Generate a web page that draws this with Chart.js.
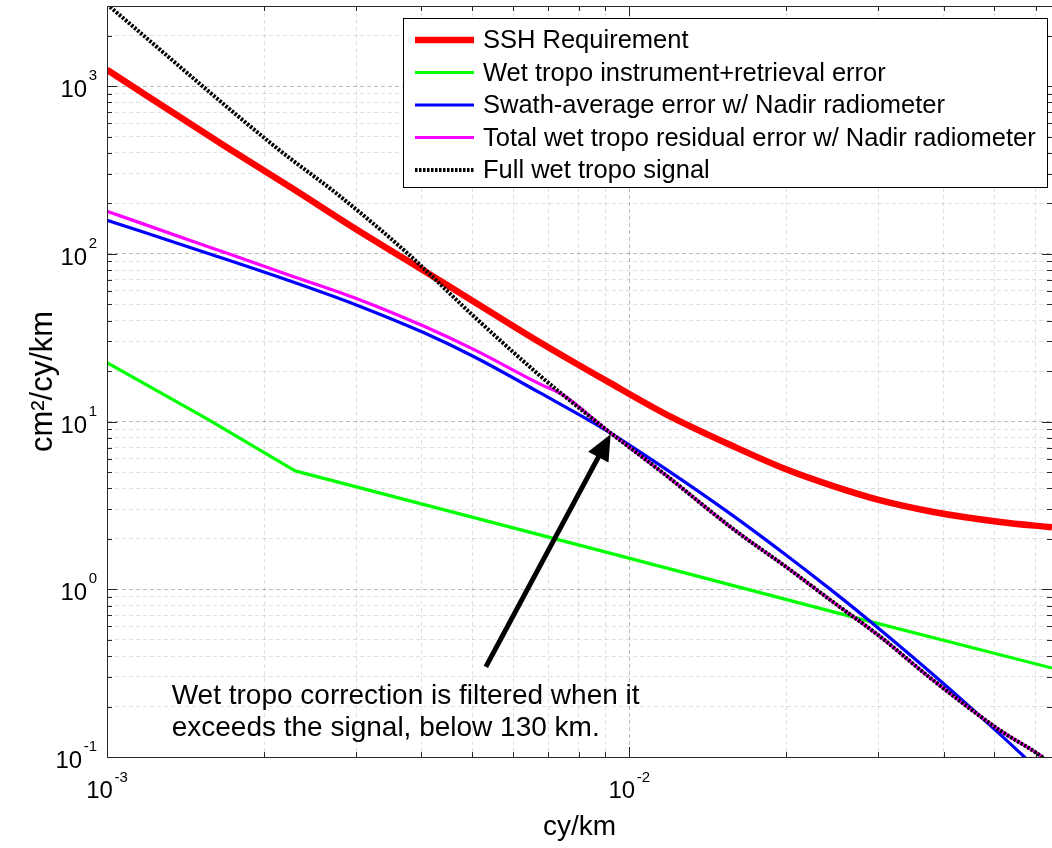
<!DOCTYPE html>
<html>
<head>
<meta charset="utf-8">
<script src="https://cdn.jsdelivr.net/npm/chart.js@4.4.1/dist/chart.umd.min.js"></script>
<style>
  html, body { margin: 0; padding: 0; background: #ffffff; }
  #wrap { width: 1052px; height: 848px; position: relative; }
</style>
</head>
<body>
<div id="wrap"><canvas id="spectra"></canvas></div>
<script>
// Wavenumber (cy/km) and power spectral density (cm^2/cy/km) for each curve
const sshFreq = [0.001, 0.001695, 0.002243, 0.00301, 0.003751, 0.005035, 0.006753, 0.009065,
                 0.01179, 0.01582, 0.02002, 0.02459, 0.03004, 0.03824, 0.0513, 0.0645];
const sshPsd  = [1250, 432, 250, 139, 91.5, 52, 29.6, 17.4,
                 11.0, 7.12, 5.17, 4.12, 3.41, 2.89, 2.52, 2.34];

const instrFreq = [0.001, 0.001552, 0.002292, 0.009065, 0.02849, 0.0645];
const instrPsd  = [22.45, 10.4, 5.08, 1.66, 0.65, 0.339];

const swathFreq = [0.001, 0.001552, 0.002243, 0.00301, 0.004038, 0.005035, 0.006753, 0.009065,
                   0.01179, 0.01582, 0.02002, 0.02459, 0.02849, 0.0399, 0.0513, 0.05686, 0.0575];
const swathPsd  = [158.5, 101.2, 68.8, 49.4, 33.9, 24.4, 14.8, 8.8,
                   5.17, 2.74, 1.59, 0.968, 0.669, 0.2752, 0.1365, 0.1014, 0.098];

const residFreq = [0.001, 0.001552, 0.002243, 0.00301, 0.004038, 0.005035, 0.006753, 0.00749,
                   0.008933, 0.01179, 0.01582, 0.02002, 0.02459, 0.03004, 0.03824, 0.0513, 0.0612, 0.0625];
const residPsd  = [179.3, 111.0, 74.3, 54.0, 37.1, 26.9, 16.7, 14.3,
                   9.21, 4.75, 2.285, 1.352, 0.837, 0.53, 0.2858, 0.144, 0.1022, 0.097];

const signalFreq = [0.001, 0.002114, 0.002795, 0.003751, 0.005035, 0.006753, 0.00749, 0.008933,
                    0.01179, 0.01582, 0.02002, 0.02459, 0.03004, 0.03824, 0.0513, 0.0612, 0.0625];
const signalPsd  = [3070, 427, 220, 101.4, 42.5, 18.7, 14.3, 9.21,
                    4.75, 2.285, 1.352, 0.837, 0.53, 0.2858, 0.144, 0.1022, 0.097];

const seriesNames = [
  'SSH Requirement',
  'Wet tropo instrument+retrieval error',
  'Swath-average error w/ Nadir radiometer',
  'Total wet tropo residual error w/ Nadir radiometer',
  'Full wet tropo signal'
];

const xRange = [0.001, 0.0645];
const yRange = [0.1, 3000];
const xAxisTitle = 'cy/km';
const yAxisTitle = 'cm\u00B2/cy/km';

const noteLines = ['Wet tropo correction is filtered when it', 'exceeds the signal, below 130 km.'];
const noteAnchor = { x: 0.00133, y: 0.208 };
const arrowTail = { x: 0.005314, y: 0.3447 };
const arrowTip  = { x: 0.009213, y: 8.40 };

const FONT = "'Liberation Sans', Arial, Helvetica, sans-serif";
const MAJOR_GRID = 'rgba(0,0,0,0.26)';
const MINOR_GRID = 'rgba(0,0,0,0.12)';
const AXIS_COLOR = '#262626';

function pairs(xs, ys) { return xs.map((x, i) => ({ x: x, y: ys[i] })); }

// 1..9 x 10^n ticks covering a log range
function logTicks(min, max) {
  const out = [];
  for (let e = Math.floor(Math.log10(min)); e <= Math.ceil(Math.log10(max)); e++) {
    for (let m = 1; m <= 9; m++) {
      const v = m * Math.pow(10, e);
      if (v >= min * (1 - 1e-9) && v <= max * (1 + 1e-9)) out.push({ value: v });
    }
  }
  return out;
}
const isDecade = v => Math.abs(Math.log10(v) - Math.round(Math.log10(v))) < 1e-6;
const gridColor = ctx => (ctx.tick && isDecade(ctx.tick.value)) ? MAJOR_GRID : MINOR_GRID;

const lineStyles = [
  { color: '#ff0000', width: 6.5, dash: [], order: 4 },
  { color: '#00ff00', width: 3.2, dash: [], order: 3 },
  { color: '#0000ff', width: 3.2, dash: [], order: 2 },
  { color: '#ff00ff', width: 3.2, dash: [], order: 1 },
  { color: '#000000', width: 4, dash: [2.5, 1.5], order: 0 }
];

const seriesData = [
  pairs(sshFreq, sshPsd),
  pairs(instrFreq, instrPsd),
  pairs(swathFreq, swathPsd),
  pairs(residFreq, residPsd),
  pairs(signalFreq, signalPsd)
];

const datasets = seriesNames.map((name, i) => ({
  label: name,
  data: seriesData[i],
  borderColor: lineStyles[i].color,
  backgroundColor: lineStyles[i].color,
  borderWidth: lineStyles[i].width,
  borderDash: lineStyles[i].dash,
  borderCapStyle: 'butt',
  borderJoinStyle: 'round',
  pointRadius: 0,
  pointHoverRadius: 0,
  fill: false,
  order: lineStyles[i].order,
  clip: 0,
  tension: 0,
  cubicInterpolationMode: i === 1 ? 'default' : 'monotone'
}));

function drawPower(ctx, base, exp, x, yBase, yExp, align) {
  ctx.font = '24px ' + FONT;
  const wb = ctx.measureText(base).width;
  ctx.font = '15px ' + FONT;
  const we = ctx.measureText(exp).width;
  const gap = 1.5;
  const total = wb + gap + we;
  const x0 = align === 'right' ? x - total : x - total / 2;
  ctx.textAlign = 'left';
  ctx.textBaseline = 'alphabetic';
  ctx.font = '24px ' + FONT;
  ctx.fillText(base, x0, yBase);
  ctx.font = '15px ' + FONT;
  ctx.fillText(exp, x0 + wb + gap, yExp);
}

const decorations = {
  id: 'decorations',
  afterDraw(chart) {
    const { ctx, chartArea: a, scales: { x: sx, y: sy } } = chart;
    ctx.save();

    // axes box
    ctx.strokeStyle = AXIS_COLOR;
    ctx.lineWidth = 1;
    ctx.setLineDash([]);
    ctx.strokeRect(Math.round(a.left) + 0.5, Math.round(a.top) + 0.5,
                   Math.round(a.right - a.left), Math.round(a.bottom - a.top));

    // inward tick marks on all four sides
    ctx.beginPath();
    sx.ticks.forEach(t => {
      const px = Math.round(sx.getPixelForValue(t.value)) + 0.5;
      const len = isDecade(t.value) ? 10 : 5;
      ctx.moveTo(px, a.bottom); ctx.lineTo(px, a.bottom - len);
      ctx.moveTo(px, a.top); ctx.lineTo(px, a.top + len);
    });
    sy.ticks.forEach(t => {
      const py = Math.round(sy.getPixelForValue(t.value)) + 0.5;
      const len = isDecade(t.value) ? 10 : 5;
      ctx.moveTo(a.left, py); ctx.lineTo(a.left + len, py);
      ctx.moveTo(a.right, py); ctx.lineTo(a.right - len, py);
    });
    ctx.stroke();

    // decade tick labels as 10 with a raised exponent
    ctx.fillStyle = '#000000';
    sx.ticks.filter(t => isDecade(t.value)).forEach(t => {
      const px = sx.getPixelForValue(t.value);
      const e = String(Math.round(Math.log10(t.value)));
      drawPower(ctx, '10', e, px, a.bottom + 41, a.bottom + 24.5, 'center');
    });
    sy.ticks.filter(t => isDecade(t.value)).forEach(t => {
      const py = sy.getPixelForValue(t.value);
      const e = String(Math.round(Math.log10(t.value)));
      drawPower(ctx, '10', e, a.left - 10, py + 11, py - 6, 'right');
    });

    // annotation arrow
    const tx = sx.getPixelForValue(arrowTail.x), ty = sy.getPixelForValue(arrowTail.y);
    const hx = sx.getPixelForValue(arrowTip.x), hy = sy.getPixelForValue(arrowTip.y);
    const ang = Math.atan2(hy - ty, hx - tx);
    const headLen = 26, headHalf = 11.5;
    const bx = hx - headLen * Math.cos(ang), by = hy - headLen * Math.sin(ang);
    ctx.strokeStyle = '#000000';
    ctx.lineWidth = 5;
    ctx.lineCap = 'butt';
    ctx.beginPath();
    ctx.moveTo(tx, ty);
    ctx.lineTo(bx + 2 * Math.cos(ang), by + 2 * Math.sin(ang));
    ctx.stroke();
    ctx.fillStyle = '#000000';
    ctx.beginPath();
    ctx.moveTo(hx, hy);
    ctx.lineTo(bx + headHalf * Math.sin(ang), by - headHalf * Math.cos(ang));
    ctx.lineTo(bx - headHalf * Math.sin(ang), by + headHalf * Math.cos(ang));
    ctx.closePath();
    ctx.fill();

    // annotation text
    const nx = sx.getPixelForValue(noteAnchor.x), ny = sy.getPixelForValue(noteAnchor.y);
    ctx.font = '28px ' + FONT;
    ctx.textAlign = 'left';
    ctx.textBaseline = 'alphabetic';
    noteLines.forEach((s, i) => ctx.fillText(s, nx, ny + i * 32));

    // legend
    const lx = 403.5, ly = 18.5, lw = 644, lh = 169;
    ctx.fillStyle = '#ffffff';
    ctx.fillRect(lx, ly, lw, lh);
    ctx.strokeStyle = '#000000';
    ctx.lineWidth = 1;
    ctx.strokeRect(lx, ly, lw, lh);
    ctx.font = '25.5px ' + FONT;
    ctx.textBaseline = 'middle';
    chart.data.datasets.forEach((ds, i) => {
      const rowY = 40 + i * 32.5;
      ctx.strokeStyle = ds.borderColor;
      ctx.lineWidth = ds.borderWidth;
      ctx.setLineDash(ds.borderDash || []);
      ctx.beginPath();
      ctx.moveTo(415, rowY);
      ctx.lineTo(474, rowY);
      ctx.stroke();
      ctx.setLineDash([]);
      ctx.fillStyle = '#000000';
      ctx.fillText(ds.label, 483, rowY + 1);
    });

    ctx.restore();
  }
};

new Chart(document.getElementById('spectra'), {
  type: 'line',
  data: { datasets: datasets },
  options: {
    responsive: true,
    maintainAspectRatio: false,
    animation: false,
    events: [],
    layout: { padding: { top: 6, left: 0, right: 0, bottom: 0 } },
    plugins: { legend: { display: false }, tooltip: { enabled: false } },
    scales: {
      x: {
        type: 'logarithmic',
        min: xRange[0],
        max: xRange[1],
        afterBuildTicks: s => { s.ticks = logTicks(s.min, s.max); },
        afterFit: s => { s.height = 91; },
        ticks: { display: false },
        grid: { color: gridColor, lineWidth: 1, drawTicks: false },
        border: { display: true, color: AXIS_COLOR, width: 1, dash: [4, 3] },
        title: { display: true, text: xAxisTitle, color: '#000000',
                 font: { family: FONT, size: 28 }, padding: { top: 0, bottom: 4 } }
      },
      y: {
        type: 'logarithmic',
        min: yRange[0],
        max: yRange[1],
        afterBuildTicks: s => { s.ticks = logTicks(s.min, s.max); },
        afterFit: s => { s.width = 107; },
        ticks: { display: false },
        grid: { color: gridColor, lineWidth: 1, drawTicks: false },
        border: { display: true, color: AXIS_COLOR, width: 1, dash: [4, 3] },
        title: { display: true, text: yAxisTitle, color: '#000000',
                 font: { family: FONT, size: 31 }, padding: { top: 25, bottom: 0 } }
      }
    }
  },
  plugins: [decorations]
});
</script>
</body>
</html>
